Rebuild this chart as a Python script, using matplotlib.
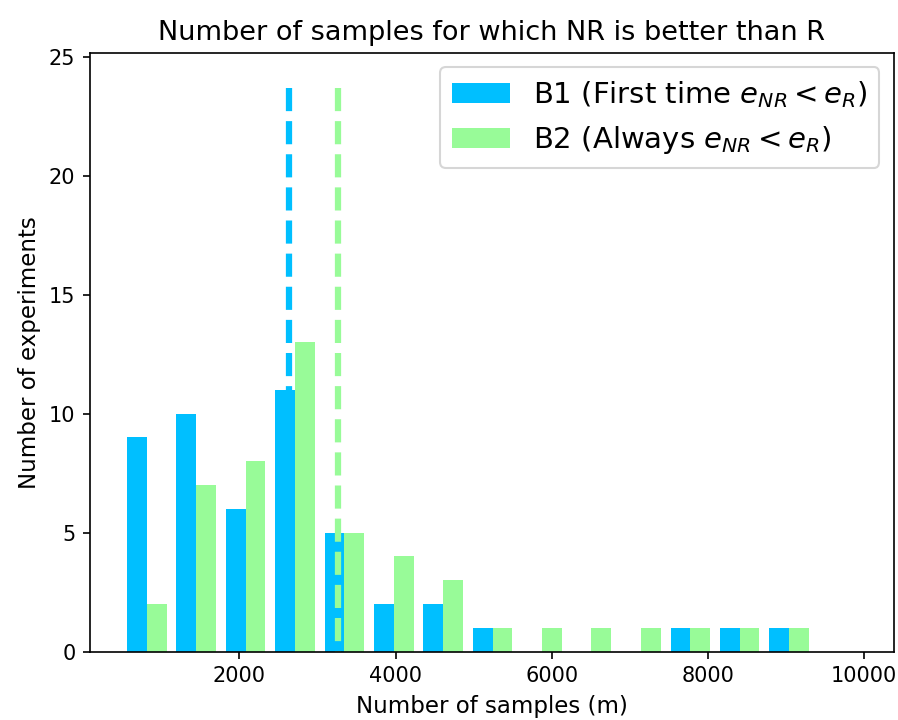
import numpy as np
import matplotlib
matplotlib.use('Agg')
import matplotlib.pyplot as plt

# histogram bins (number of samples) and counts per bin
bin_edges = np.linspace(500, 9354, 15)
b1_counts = [9, 10, 6, 11, 5, 2, 2, 1, 0, 0, 0, 1, 1, 1]
b2_counts = [2, 7, 8, 13, 5, 4, 3, 1, 1, 1, 1, 1, 1, 1]
b1_mean = 2636
b2_mean = 3260
line_top = 23.67

labels = [r'B1 (First time $e_{NR} < e_R$)', r'B2 (Always $e_{NR} < e_R$)']
colors = ['deepskyblue', 'palegreen']

centers = (bin_edges[:-1] + bin_edges[1:]) / 2

fig = plt.figure(figsize=(898 / 150, 720 / 150), dpi=150)
ax = fig.add_axes([0.1002, 0.0949, 0.8953, 0.8319])

ax.hist([centers, centers], bins=bin_edges, weights=[b1_counts, b2_counts],
        color=colors, label=labels)
# mean lines, drawn top-down so the dash pattern starts at the top
ax.plot([b1_mean, b1_mean], [line_top, 0], '--', color=colors[0], lw=3)
ax.plot([b2_mean, b2_mean], [line_top, 0], '--', color=colors[1], lw=3)

ax.set_xlim(89, 10380)
ax.set_ylim(0, 25.17)
ax.set_xticks([2000, 4000, 6000, 8000, 10000])
ax.set_title('Number of samples for which NR is better than R', fontsize=13)
ax.set_xlabel('Number of samples (m)', fontsize=11)
ax.set_ylabel('Number of experiments', fontsize=11)
ax.legend(loc='upper right', fontsize=14)

fig.savefig('out.png', dpi=150)
